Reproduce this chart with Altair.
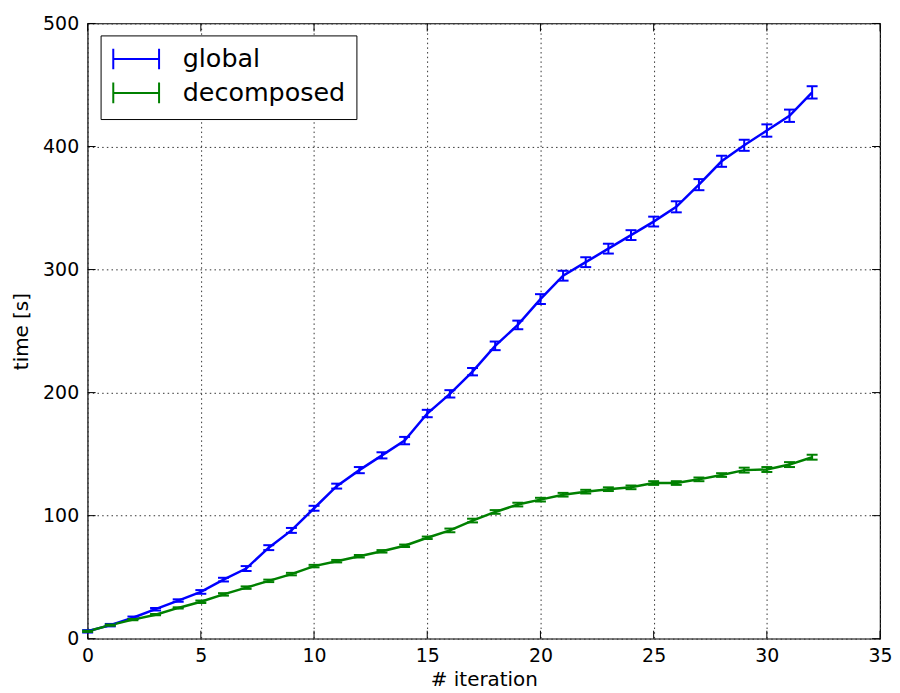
import altair as alt
import pandas as pd

iterations = list(range(33))
global_time = [6, 11, 17, 24, 31, 38, 48, 57, 74, 88, 106, 124, 137, 149, 161, 183,
               199, 217, 238, 255, 276, 295, 306, 317, 328, 339, 351, 369, 388, 401,
               413, 425, 444]
global_err = [1, 1, 1, 1, 1, 1.5, 1.5, 2, 2, 2, 2, 2, 2.5, 2.5, 3, 3, 3, 3, 3.5,
              3.5, 4, 4, 4, 4, 4, 4, 4.5, 4.5, 4.5, 4.5, 5, 5, 5]
decomposed_time = [6, 11, 15.5, 19.5, 25, 30, 36, 41.5, 47, 52.5, 59, 63, 67, 71,
                   75.5, 82, 88, 96, 103, 109, 113, 117, 119.5, 121.5, 123, 126.5,
                   126.5, 129.5, 133, 137, 137.5, 141.5, 147.5]
decomposed_err = [0.5, 0.5, 0.5, 0.5, 0.5, 1, 1, 1, 1, 1, 1, 1, 1, 1, 1, 1, 1.5,
                  1.5, 1.5, 1.5, 1.5, 1.5, 1.5, 1.5, 1.5, 1.5, 1.5, 1.5, 1.5, 2, 2,
                  2, 2]
series_names = ["global", "decomposed"]
series_colors = ["#0000ff", "#008000"]
x_ticks = [0, 5, 10, 15, 20, 25, 30, 35]
y_ticks = [0, 100, 200, 300, 400, 500]

rows = []
for name, ys, es in [("global", global_time, global_err),
                     ("decomposed", decomposed_time, decomposed_err)]:
    for i, y, e in zip(iterations, ys, es):
        rows.append({"series": name, "iteration": i, "time": y,
                     "lo": y - e, "hi": y + e})
df = pd.DataFrame(rows)

W, H = 796, 618
xscale = alt.Scale(domain=[0, 35], nice=False, zero=False)
yscale = alt.Scale(domain=[0, 500], nice=False)
color_scale = alt.Scale(domain=series_names, range=series_colors)

xaxis = alt.Axis(values=x_ticks, title="# iteration", grid=True, ticks=False,
                 domain=False, labelPadding=8, titlePadding=4, labelFlush=False)
yaxis = alt.Axis(values=y_ticks, title="time [s]", grid=True, ticks=False,
                 domain=False, labelPadding=9, titlePadding=11, labelFlush=False)

glyph = "M-2,0H2M-2,-0.9V0.9M2,-0.9V0.9"

base = alt.Chart(df)
lines = base.mark_line(strokeWidth=2.5).encode(
    x=alt.X("iteration:Q", scale=xscale, axis=xaxis),
    y=alt.Y("time:Q", scale=yscale, axis=yaxis),
    color=alt.Color("series:N", scale=color_scale, sort=series_names,
                    legend=alt.Legend(title=None, orient="none", legendX=13,
                                      legendY=12, symbolType=glyph,
                                      symbolSize=529, symbolStrokeWidth=2,
                                      symbolFillColor="transparent",
                                      symbolOffset=12,
                                      labelFontSize=25.5, labelFont="DejaVu Sans",
                                      labelColor="black", labelOffset=34,
                                      labelLimit=400,
                                      strokeColor="black", fillColor="white",
                                      padding=11, rowPadding=4, cornerRadius=0)),
    detail="series:N",
)
rules = base.mark_rule(strokeWidth=2, opacity=1).encode(
    x="iteration:Q", y="lo:Q", y2="hi:Q",
    color=alt.Color("series:N", scale=color_scale, legend=None),
)
caps_lo = base.mark_tick(orient="horizontal", size=11, thickness=2, opacity=1).encode(
    x="iteration:Q", y="lo:Q",
    color=alt.Color("series:N", scale=color_scale, legend=None),
)
caps_hi = base.mark_tick(orient="horizontal", size=11, thickness=2, opacity=1).encode(
    x="iteration:Q", y="hi:Q",
    color=alt.Color("series:N", scale=color_scale, legend=None),
)

xt = pd.DataFrame({"v": x_ticks})
yt = pd.DataFrame({"v": y_ticks})
tick_bottom = alt.Chart(xt).mark_rule(color="black").encode(
    x="v:Q", y=alt.value(H), y2=alt.value(H - 8))
tick_top = alt.Chart(xt).mark_rule(color="black").encode(
    x="v:Q", y=alt.value(0), y2=alt.value(8))
tick_left = alt.Chart(yt).mark_rule(color="black").encode(
    y="v:Q", x=alt.value(0), x2=alt.value(8))
tick_right = alt.Chart(yt).mark_rule(color="black").encode(
    y="v:Q", x=alt.value(W), x2=alt.value(W - 8))

chart = alt.layer(
    tick_bottom, tick_top, tick_left, tick_right, lines, rules, caps_lo, caps_hi
).properties(
    width=W, height=H,
    autosize=alt.AutoSizeParams(type="none"),
    padding={"left": 80, "top": 14, "right": 12, "bottom": 50},
).configure_view(
    stroke="black", strokeWidth=1.2
).configure_axis(
    labelFont="DejaVu Sans", titleFont="DejaVu Sans", labelFontSize=19,
    titleFontSize=20, titleFontWeight="normal", labelColor="black",
    titleColor="black", gridColor="#333333", gridDash=[1.5, 3.2],
    gridWidth=1, gridOpacity=1
)

chart.save("out.html", embed_options={"renderer": "svg", "actions": False})
